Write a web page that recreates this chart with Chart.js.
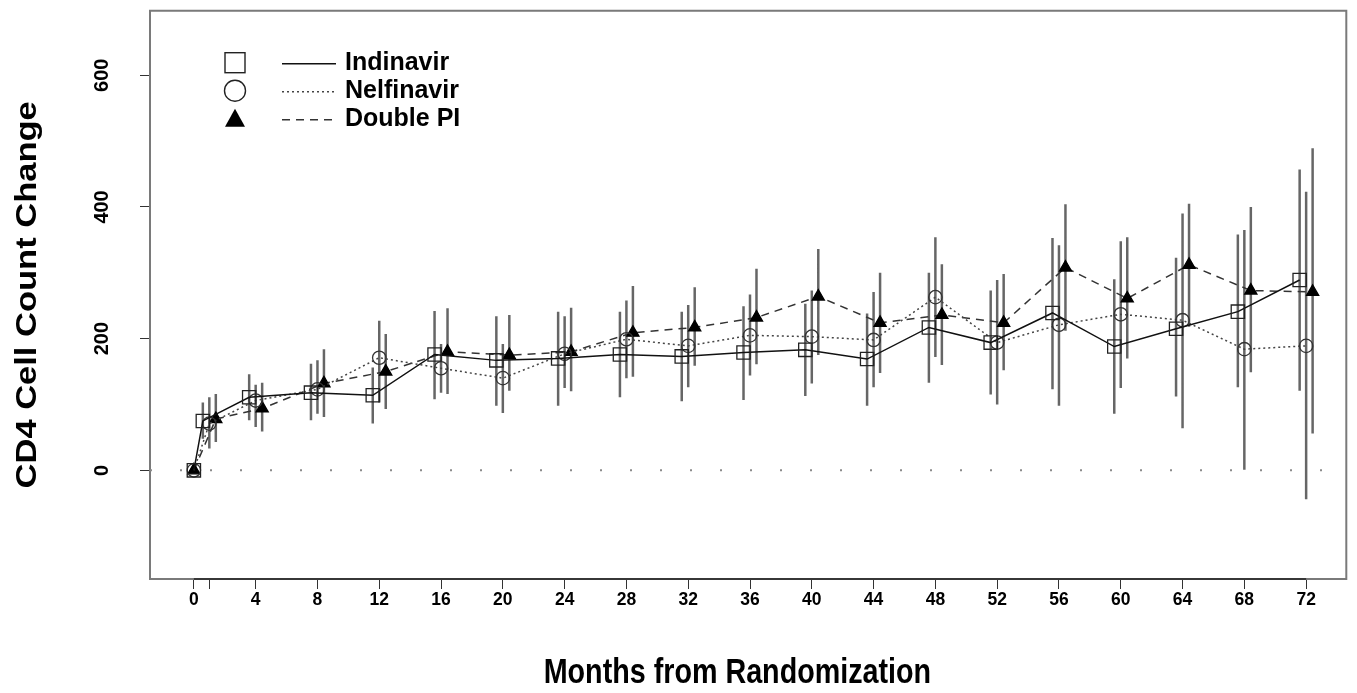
<!DOCTYPE html>
<html><head><meta charset="utf-8">
<script src="https://cdn.jsdelivr.net/npm/chart.js@4.4.1/dist/chart.umd.min.js"></script>
<style>html,body{margin:0;padding:0;background:#fff;} #wrap{width:1357px;height:693px;}</style>
</head><body><div id="wrap"><canvas id="c" width="1357" height="693"></canvas></div>
<script>
// ---- data ----
const months = [0, 1, 4, 8, 12, 16, 20, 24, 28, 32, 36, 40, 44, 48, 52, 56, 60, 64, 68, 72];
const xTickValues = [0, 1, 4, 8, 12, 16, 20, 24, 28, 32, 36, 40, 44, 48, 52, 56, 60, 64, 68, 72];
const yTickValues = [0, 200, 400, 600];
const seriesNames = ['Indinavir', 'Nelfinavir', 'Double PI'];
const xTitle = 'Months from Randomization';
const yTitle = 'CD4 Cell Count Change';

const indinavirMean = [0, 75, 111, 118, 114, 176, 167, 170, 176, 173, 179, 183, 169, 217, 194, 239, 188, 215, 241, 289];
const indinavirLow  = [null, 48, 76, 76, 71, 108, 98, 98, 111, 105, 107, 113, 98, 133, 115, 123, 86, 112, 126, 121];
const indinavirHigh = [null, 103, 146, 162, 156, 242, 234, 241, 241, 241, 249, 253, 238, 300, 273, 353, 290, 323, 358, 457];

const nelfinavirMean = [0, 71, 106, 123, 171, 155, 140, 177, 199, 189, 205, 203, 198, 263, 194, 221, 237, 228, 184, 189];
const nelfinavirLow  = [null, 33, 66, 86, 103, 118, 87, 125, 140, 126, 144, 132, 126, 172, 100, 98, 125, 64, 1, -44];
const nelfinavirHigh = [null, 111, 130, 167, 227, 192, 192, 234, 258, 251, 267, 273, 271, 354, 289, 342, 348, 390, 365, 423];

const doublePIMean = [0, 78, 94, 132, 150, 180, 175, 180, 209, 217, 232, 264, 224, 236, 224, 308, 261, 312, 273, 271];
const doublePILow  = [null, 43, 59, 81, 93, 116, 121, 120, 142, 159, 161, 175, 148, 160, 152, 212, 170, 218, 149, 56];
const doublePIHigh = [null, 116, 133, 184, 207, 246, 236, 247, 280, 278, 306, 336, 300, 313, 298, 404, 354, 405, 400, 489];

// horizontal dodge (months) per series, applied after baseline
const dodge = [-0.42, 0, 0.42];
const xMin = -2.84, xMax = 74.6, yMin = -165, yMax = 698;

// ---- fonts ----
function hasFont(name) {
  const c = document.createElement('canvas').getContext('2d');
  c.font = 'bold 40px monospace'; const w0 = c.measureText('Months 0123').width;
  c.font = 'bold 40px "' + name + '", monospace'; const w1 = c.measureText('Months 0123').width;
  return Math.abs(w0 - w1) > 0.5;
}
const BASE = '"Liberation Sans", Arial, sans-serif';
const NARROW_OK = hasFont('Liberation Sans Narrow');
const xTickFont = NARROW_OK ? {family: '"Liberation Sans Narrow", ' + BASE, size: 20.5, weight: 'bold'}
                            : {family: BASE, size: 17.5, weight: 'bold'};

// ---- build ----
function pos(m, k) { return m === 0 ? 0 : m + dodge[k]; }
function points(mean, k) { return months.map((m, i) => ({x: pos(m, k), y: mean[i]})); }
function bars(lo, hi, k) {
  const out = [];
  months.forEach((m, i) => {
    if (lo[i] == null) return;
    out.push({x: pos(m, k), y: lo[i]}, {x: pos(m, k), y: hi[i]}, {x: pos(m, k), y: null});
  });
  return out;
}

const styles = [
  {color: '#111', dash: [], pointStyle: 'rect', radius: 9.4, fill: 'rgba(0,0,0,0)', pcolor: '#222'},
  {color: '#444', dash: [2, 3], pointStyle: 'circle', radius: 6.7, fill: 'rgba(0,0,0,0)', pcolor: '#333'},
  {color: '#333', dash: [8, 6], pointStyle: 'triangle', radius: 7, fill: '#000', pcolor: '#000'}
];
const means = [indinavirMean, nelfinavirMean, doublePIMean];
const lows = [indinavirLow, nelfinavirLow, doublePILow];
const highs = [indinavirHigh, nelfinavirHigh, doublePIHigh];

const datasets = [];
seriesNames.forEach((name, k) => {
  datasets.push({
    label: name, data: points(means[k], k), order: 1,
    borderColor: styles[k].color, borderWidth: 1.5, borderDash: styles[k].dash,
    pointStyle: styles[k].pointStyle, pointRadius: styles[k].radius,
    pointBackgroundColor: styles[k].fill, pointBorderColor: styles[k].pcolor,
    pointBorderWidth: 1.3, fill: false, tension: 0
  });
});
seriesNames.forEach((name, k) => {
  datasets.push({
    label: name + ' range', data: bars(lows[k], highs[k], k), order: 2,
    borderColor: 'rgba(85,85,85,0.9)', borderWidth: 2.5, pointRadius: 0,
    spanGaps: false, fill: false
  });
});
datasets.push({
  label: 'zero', data: [{x: xMin, y: 0}, {x: xMax, y: 0}], order: 3,
  borderColor: '#8a8a8a', borderWidth: 2, borderDash: [2, 28], pointRadius: 0, fill: false
});

const decorPlugin = {
  id: 'decor',
  afterDraw(chart) {
    const {ctx, chartArea: a, scales: {x}} = chart;
    ctx.save();
    ctx.strokeStyle = '#7a7a7a'; ctx.lineWidth = 2;
    ctx.beginPath(); ctx.moveTo(a.left - 1, a.top); ctx.lineTo(a.right, a.top); ctx.lineTo(a.right, a.bottom + 1); ctx.stroke();
    ctx.strokeStyle = '#222'; ctx.lineWidth = 1.5;
    ctx.beginPath();
    ctx.moveTo(x.getPixelForValue(xTickValues[0]), a.bottom);
    ctx.lineTo(x.getPixelForValue(xTickValues[xTickValues.length - 1]), a.bottom);
    ctx.stroke();

    // axis titles (text slightly stretched vertically, as in the source figure)
    ctx.fillStyle = '#000';
    ctx.textBaseline = 'alphabetic';
    ctx.textAlign = 'center';
    ctx.font = 'bold 35px ' + BASE;
    ctx.save();
    ctx.translate(a.left + (a.right - a.left) * 0.491, 683);
    ctx.scale(0.82, 1);
    ctx.fillText(xTitle, 0, 0);
    ctx.restore();
    ctx.save();
    ctx.translate(36, (a.top + a.bottom) / 2);
    ctx.rotate(-Math.PI / 2);
    ctx.scale(1, 0.85);
    ctx.font = 'bold 34.5px ' + BASE;
    ctx.fillText(yTitle, 0, 0);
    ctx.restore();

    // legend
    const sx = a.left + 85, lx0 = a.left + 132, lx1 = a.left + 186, tx = a.left + 195;
    const rows = [a.top + 52, a.top + 80, a.top + 108];
    ctx.font = 'bold 25px ' + BASE;
    ctx.textBaseline = 'middle'; ctx.textAlign = 'left';
    rows.forEach((y, k) => {
      ctx.setLineDash([]);
      ctx.lineWidth = 1.4; ctx.strokeStyle = '#222'; ctx.fillStyle = '#000';
      if (k === 0) { ctx.strokeRect(sx - 10, y - 10, 20, 20); }
      else if (k === 1) { ctx.beginPath(); ctx.arc(sx, y, 10.5, 0, Math.PI * 2); ctx.stroke(); }
      else { ctx.beginPath(); ctx.moveTo(sx, y - 10); ctx.lineTo(sx + 10, y + 8); ctx.lineTo(sx - 10, y + 8); ctx.closePath(); ctx.fill(); }
      ctx.strokeStyle = styles[k].color; ctx.lineWidth = 1.4;
      ctx.setLineDash(styles[k].dash);
      ctx.beginPath(); ctx.moveTo(lx0, y + 1); ctx.lineTo(lx1, y + 1); ctx.stroke();
      ctx.setLineDash([]);
      ctx.fillStyle = '#000';
      ctx.fillText(seriesNames[k], tx, y);
    });
    ctx.restore();
  }
};

Chart.defaults.font.family = BASE;
Chart.defaults.color = '#000';

new Chart(document.getElementById('c'), {
  type: 'line',
  data: {datasets},
  plugins: [decorPlugin],
  options: {
    responsive: false, animation: false,
    layout: {padding: {top: 8, right: 7, left: 0, bottom: 0}},
    plugins: {legend: {display: false}, tooltip: {enabled: false}},
    scales: {
      x: {
        type: 'linear', min: xMin, max: xMax,
        afterBuildTicks: s => { s.ticks = xTickValues.map(v => ({value: v})); },
        afterFit: s => { s.height = 114; s.paddingLeft = 0; s.paddingRight = 0; },
        ticks: {autoSkip: false, minRotation: 0, maxRotation: 0, padding: 1,
          font: xTickFont,
          callback: v => (v === 1 ? '' : String(v))},
        grid: {drawOnChartArea: false, drawTicks: true, tickLength: 10, color: '#333', lineWidth: 1},
        border: {display: true, color: '#7a7a7a', width: 2},
        title: {display: false}
      },
      y: {
        type: 'linear', min: yMin, max: yMax,
        afterBuildTicks: s => { s.ticks = yTickValues.map(v => ({value: v})); },
        afterFit: s => { s.width = 150; s.paddingTop = 0; s.paddingBottom = 0; },
        ticks: {minRotation: 90, maxRotation: 90, crossAlign: 'center', padding: 21,
          font: {size: 20, weight: 'bold'}},
        grid: {drawOnChartArea: false, drawTicks: true, tickLength: 10, color: '#333', lineWidth: 1},
        border: {display: true, color: '#7a7a7a', width: 2},
        title: {display: false}
      }
    }
  }
});
</script></body></html>
